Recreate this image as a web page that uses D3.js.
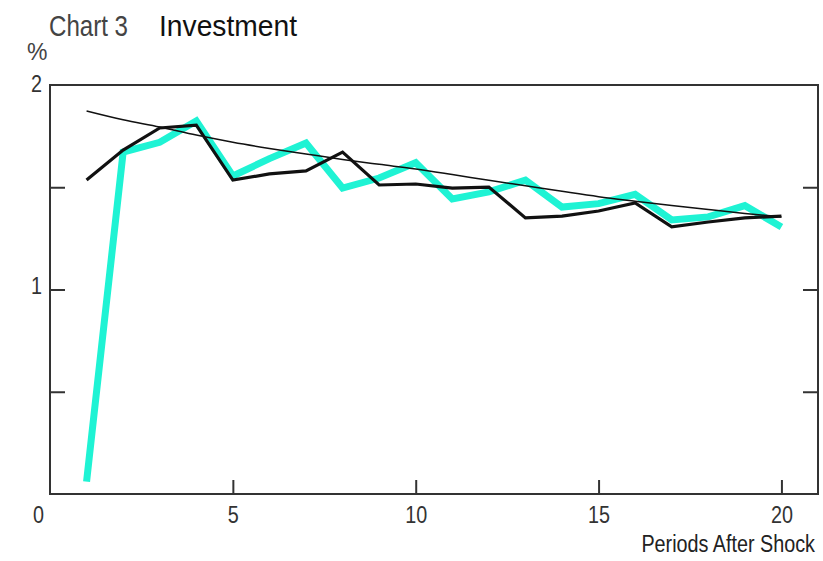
<!DOCTYPE html>
<html>
<head>
<meta charset="utf-8">
<script src="https://cdn.jsdelivr.net/npm/d3@7"></script>
<style>
  html, body { margin: 0; padding: 0; background: #fff; }
  svg { display: block; }
  text { font-family: "Liberation Sans Narrow", "Liberation Sans", Arial, sans-serif; fill: #222; }
</style>
</head>
<body>
<svg id="chart" width="823" height="561"></svg>
<script>
// Periods after the shock
const periods = d3.range(1, 21);

// Simulated investment response (thick cyan line)
const cyanSeries = [0.06, 1.672, 1.72, 1.824, 1.555, 1.64, 1.716, 1.496, 1.545, 1.62,
                    1.443, 1.477, 1.535, 1.403, 1.42, 1.465, 1.34, 1.355, 1.41, 1.306];

// Alternative response (black line)
const blackSeries = [1.535, 1.682, 1.79, 1.804, 1.535, 1.565, 1.58, 1.672, 1.511, 1.516,
                     1.496, 1.501, 1.35, 1.359, 1.384, 1.423, 1.306, 1.33, 1.35, 1.359];

// Smooth trend path (thin black line)
const trendSeries = [1.873, 1.83, 1.795, 1.755, 1.72, 1.69, 1.663, 1.636, 1.612, 1.589,
                     1.562, 1.534, 1.507, 1.48, 1.454, 1.432, 1.411, 1.391, 1.372, 1.355];

const xTicks = [0, 5, 10, 15, 20];
const yTicks = [1, 2];
const yMinorTicks = [0.5, 1, 1.5];

const svg = d3.select("#chart");
const plot = { left: 50, right: 818, top: 85, bottom: 494 };

const x = d3.scaleLinear().domain([0, 21]).range([plot.left, plot.right]);
const y = d3.scaleLinear().domain([0, 2]).range([plot.bottom, plot.top]);

const axisColor = "#333";

// Title
svg.append("text").attr("x", 49).attr("y", 36)
  .attr("font-size", 29).attr("textLength", 79).attr("lengthAdjust", "spacingAndGlyphs")
  .style("fill", "#444").text("Chart 3");
svg.append("text").attr("x", 159).attr("y", 36)
  .attr("font-size", 29).attr("textLength", 138).attr("lengthAdjust", "spacingAndGlyphs")
  .style("fill", "#111").text("Investment");

// Unit label
svg.append("text").attr("x", 27).attr("y", 60)
  .attr("font-size", 23).style("fill", "#444").text("%");

// Frame
svg.append("rect")
  .attr("x", plot.left).attr("y", plot.top)
  .attr("width", plot.right - plot.left).attr("height", plot.bottom - plot.top)
  .attr("fill", "none").attr("stroke", axisColor).attr("stroke-width", 2);

// Bottom axis: inward ticks, labels below
const xAxis = d3.axisBottom(x).tickValues(xTicks).tickSizeInner(-14).tickSizeOuter(0)
  .tickPadding(13).tickFormat(d3.format("d"));
const gx = svg.append("g").attr("transform", `translate(0,${plot.bottom})`).call(xAxis);
gx.select(".domain").remove();
gx.selectAll(".tick line").attr("stroke", axisColor).attr("stroke-width", 2)
  .filter(d => d === 0).remove();
gx.selectAll(".tick text")
  .attr("font-family", "Liberation Sans Narrow, Liberation Sans, Arial, sans-serif")
  .attr("font-size", 23).style("fill", "#333")
  .attr("x", d => d === 0 ? -12 : 0)
  .attr("textLength", d => String(d).length * 11)
  .attr("lengthAdjust", "spacingAndGlyphs");

// Left axis: inward ticks
const yAxisL = d3.axisLeft(y).tickValues(yMinorTicks).tickSizeInner(-15).tickSizeOuter(0)
  .tickFormat("");
const gyl = svg.append("g").attr("transform", `translate(${plot.left},0)`).call(yAxisL);
gyl.select(".domain").remove();
gyl.selectAll(".tick line").attr("stroke", axisColor).attr("stroke-width", 2);

// Left axis labels
svg.append("g").selectAll("text").data(yTicks).join("text")
  .attr("x", 42).attr("y", d => y(d) + (d === 2 ? 7 : 4))
  .attr("text-anchor", "end").attr("font-size", 23).style("fill", "#333")
  .attr("textLength", 11).attr("lengthAdjust", "spacingAndGlyphs")
  .text(d => d);

// Right axis: inward ticks
const yAxisR = d3.axisRight(y).tickValues(yMinorTicks).tickSizeInner(-15).tickSizeOuter(0)
  .tickFormat("");
const gyr = svg.append("g").attr("transform", `translate(${plot.right},0)`).call(yAxisR);
gyr.select(".domain").remove();
gyr.selectAll(".tick line").attr("stroke", axisColor).attr("stroke-width", 2);

// Axis title, horizontally condensed
svg.append("g").attr("transform", "translate(815,552) scale(0.86,1)")
  .append("text").attr("x", 0).attr("y", 0).attr("text-anchor", "end")
  .attr("font-size", 23).style("fill", "#222")
  .text("Periods  After Shock");

// Lines
const line = d3.line().x((d, i) => x(periods[i])).y(d => y(d));

svg.append("path").datum(cyanSeries)
  .attr("d", line).attr("fill", "none")
  .attr("stroke", "#1ff3d4").attr("stroke-width", 7).attr("stroke-linejoin", "miter");

svg.append("path").datum(trendSeries)
  .attr("d", d3.line().curve(d3.curveMonotoneX).x((d, i) => x(periods[i])).y(d => y(d)))
  .attr("fill", "none").attr("stroke", "#111").attr("stroke-width", 1.5);

svg.append("path").datum(blackSeries)
  .attr("d", line).attr("fill", "none")
  .attr("stroke", "#111").attr("stroke-width", 3.2).attr("stroke-linejoin", "miter");
</script>
</body>
</html>
